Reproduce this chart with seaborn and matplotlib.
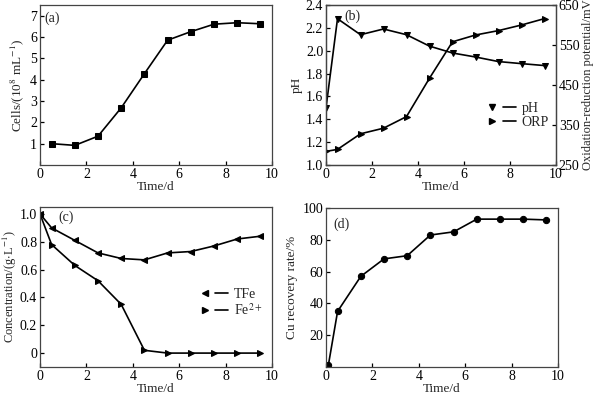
import matplotlib
matplotlib.use("Agg")
import matplotlib.pyplot as plt
import seaborn as sns
from matplotlib.lines import Line2D
from matplotlib.legend_handler import HandlerTuple

# ---- data ----
days_a = [0.5, 1.5, 2.5, 3.5, 4.5, 5.5, 6.5, 7.5, 8.5, 9.5]
cells = [1.0, 0.92, 1.35, 2.68, 4.28, 5.85, 6.25, 6.6, 6.67, 6.62]

days_b = [0, 0.5, 1.5, 2.5, 3.5, 4.5, 5.5, 6.5, 7.5, 8.5, 9.5]
ph = [1.50, 2.28, 2.14, 2.19, 2.14, 2.04, 1.98, 1.945, 1.905, 1.887, 1.87]
orp = [284, 289, 328, 342, 371, 467, 558, 575, 586, 600, 616]

days_c = [0, 0.5, 1.5, 2.5, 3.5, 4.5, 5.5, 6.5, 7.5, 8.5, 9.5]
tfe = [1.0, 0.90, 0.81, 0.72, 0.68, 0.67, 0.72, 0.73, 0.77, 0.82, 0.84]
fe2 = [1.0, 0.78, 0.63, 0.52, 0.35, 0.02, 0.0, 0.0, 0.0, 0.0, 0.0]

days_d = [0.1, 0.5, 1.5, 2.5, 3.5, 4.5, 5.5, 6.5, 7.5, 8.5, 9.5]
cu = [1.0, 35, 57, 68, 70, 83, 85, 93, 93, 93, 92.5]

# ---- style ----
sns.set_style("ticks")
plt.rcParams["font.family"] = ["Liberation Serif", "DejaVu Serif"]
plt.rcParams["mathtext.fontset"] = "stix"
plt.rcParams["xtick.direction"] = "in"
plt.rcParams["ytick.direction"] = "in"
plt.rcParams["xtick.major.size"] = 3
plt.rcParams["ytick.major.size"] = 3
plt.rcParams["axes.linewidth"] = 0.9
plt.rcParams["axes.edgecolor"] = "#444444"

FS = 10
LFS = 9.5
fig = plt.figure(figsize=(6.0, 3.95), dpi=100)
W, H = 600, 395

def add_ax(l, t, r, b):
    return fig.add_axes([l / W, 1 - b / H, (r - l) / W, (b - t) / H])

axa = add_ax(40, 5, 272, 165)
axb = add_ax(326, 5, 556, 165)
axc = add_ax(40, 207, 272, 367)
axd = add_ax(326, 208, 558, 367)

lw = 1.2
ms = 4.5

def style(ax):
    ax.tick_params(labelsize=FS, width=0.9, pad=2, colors="black")
    for s in ax.spines.values():
        s.set_visible(True)
    ax.set_xlim(0, 10)
    ax.set_xticks([0, 2, 4, 6, 8, 10])
    ax.set_xlabel("Time/d", fontsize=LFS, labelpad=0)

# (a)
sns.lineplot(x=days_a, y=cells, ax=axa, color="black", marker="s", markersize=ms,
             markeredgecolor="black", linewidth=lw, legend=False)
style(axa)
axa.set_ylim(0, 7.5)
axa.set_yticks([1, 2, 3, 4, 5, 6, 7])
axa.set_ylabel("Cells/(10$^{8}$ mL$^{-1}$)", fontsize=LFS, labelpad=3)
axa.text(0.02, 0.96, "(a)", transform=axa.transAxes, fontsize=FS, va="top", ha="left")

# (b)
sns.lineplot(x=days_b, y=ph, ax=axb, color="black", marker="v", markersize=ms,
             markeredgecolor="black", linewidth=lw, legend=False)
style(axb)
axb.set_ylim(1.0, 2.4)
axb.set_yticks([1.0, 1.2, 1.4, 1.6, 1.8, 2.0, 2.2, 2.4])
axb.set_yticklabels(["1.0", "1.2", "1.4", "1.6", "1.8", "2.0", "2.2", "2.4"])
axb.set_ylabel("pH", fontsize=LFS, labelpad=2)
axb2 = axb.twinx()
sns.lineplot(x=days_b, y=orp, ax=axb2, color="black", marker=">", markersize=ms,
             markeredgecolor="black", linewidth=lw, legend=False)
axb2.set_ylim(250, 650)
axb2.set_yticks([250, 350, 450, 550, 650])
axb2.tick_params(labelsize=FS, width=0.9, pad=2, colors="black")
axb2.set_ylabel("Oxidation-reduction potential/mV", fontsize=9, labelpad=2)
axb.text(0.08, 0.97, "(b)", transform=axb.transAxes, fontsize=FS, va="top", ha="left")

def pair(marker):
    return (Line2D([], [], color="black", marker=marker, markersize=ms, linestyle="none"),
            Line2D([], [], color="black", linewidth=lw))

axb.legend(handles=[pair("v"), pair(">")], labels=["pH", "ORP"],
           handler_map={tuple: HandlerTuple(ndivide=None, pad=0.3)},
           loc="center", bbox_to_anchor=(0.83, 0.31), frameon=False, fontsize=FS,
           handlelength=2.2, handletextpad=0.4, labelspacing=0.1, borderpad=0.1)

# (c)
sns.lineplot(x=days_c, y=tfe, ax=axc, color="black", marker="<", markersize=ms,
             markeredgecolor="black", linewidth=lw, legend=False)
sns.lineplot(x=days_c, y=fe2, ax=axc, color="black", marker=">", markersize=ms,
             markeredgecolor="black", linewidth=lw, legend=False)
style(axc)
axc.set_ylim(-0.1, 1.05)
axc.set_yticks([0, 0.2, 0.4, 0.6, 0.8, 1.0])
axc.set_yticklabels(["0", "0.2", "0.4", "0.6", "0.8", "1.0"])
axc.set_ylabel("Concentration/(g$\\cdot$L$^{-1}$)", fontsize=9, labelpad=1)
axc.text(0.08, 0.98, "(c)", transform=axc.transAxes, fontsize=FS, va="top", ha="left")
axc.legend(handles=[pair("<"), pair(">")], labels=["TFe", "Fe$^{2+}$"],
           handler_map={tuple: HandlerTuple(ndivide=None, pad=0.3)},
           loc="center", bbox_to_anchor=(0.82, 0.40), frameon=False, fontsize=FS,
           handlelength=2.2, handletextpad=0.4, labelspacing=0.1, borderpad=0.1)

# (d)
sns.lineplot(x=days_d, y=cu, ax=axd, color="black", marker="o", markersize=ms,
             markeredgecolor="black", linewidth=lw, legend=False)
style(axd)
axd.set_ylim(0, 100)
axd.set_yticks([20, 40, 60, 80, 100])
axd.set_ylabel("Cu recovery rate/%", fontsize=LFS, labelpad=3)
axd.text(0.03, 0.94, "(d)", transform=axd.transAxes, fontsize=FS, va="top", ha="left")

fig.savefig("out.png", dpi=100)
